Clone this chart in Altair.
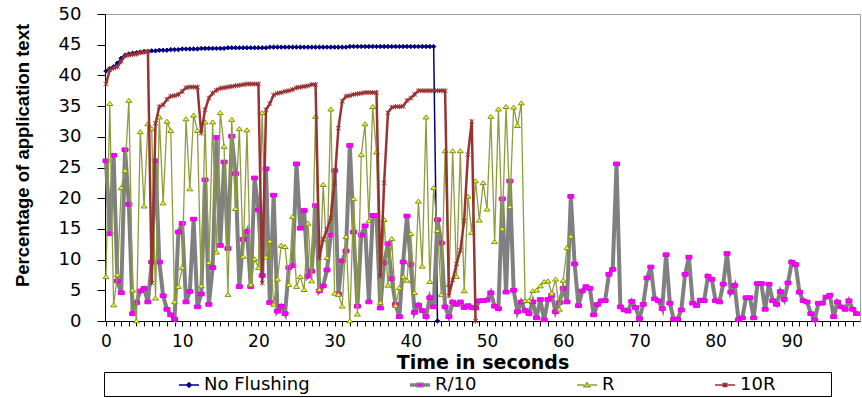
import altair as alt
import pandas as pd

BLANK = "\u2800"

series_names = ["No Flushing", "R/10", "R", "10R"]
step_seconds = 0.5

# No Flushing, samples every 0.5 s from t=0
no_flushing = [
    40.7, 41.1, 41.4, 42.0, 42.8, 43.3, 43.5, 43.6, 43.7, 43.8,
    43.9, 43.9, 44.0, 44.0, 44.1, 44.1, 44.1, 44.2, 44.2, 44.2,
    44.3, 44.3, 44.3, 44.3, 44.3, 44.4, 44.4, 44.4, 44.4, 44.4,
    44.4, 44.4, 44.5, 44.5, 44.5, 44.5, 44.5, 44.5, 44.5, 44.5,
    44.5, 44.5, 44.5, 44.6, 44.6, 44.6, 44.6, 44.6, 44.6, 44.6,
    44.6, 44.6, 44.6, 44.6, 44.6, 44.6, 44.6, 44.6, 44.6, 44.6,
    44.6, 44.6, 44.6, 44.6, 44.7, 44.7, 44.7, 44.7, 44.7, 44.7,
    44.7, 44.7, 44.7, 44.7, 44.7, 44.7, 44.7, 44.7, 44.7, 44.7,
    44.7, 44.7, 44.7, 44.7, 44.7, 44.7, 44.7, 0.0,
]

# R/10
r_div10 = [
    26.1, 14.2, 27.0, 6.5, 4.6, 27.9, 19.0, 1.2, 3.0, 4.9,
    5.3, 3.1, 9.6, 26.1, 9.6, 4.1, 1.9, 1.0, 0.3, 14.5,
    15.9, 3.1, 4.8, 16.6, 2.3, 4.4, 23.0, 2.7, 8.7, 29.9,
    12.3, 25.9, 11.8, 30.1, 24.0, 5.6, 13.3, 14.6, 5.6, 23.3,
    18.1, 7.4, 24.8, 3.0, 20.5, 1.6, 2.4, 1.2, 8.7, 9.0,
    25.6, 15.1, 18.0, 7.3, 8.1, 18.8, 4.9, 5.7, 8.3, 14.0,
    24.5, 4.4, 9.8, 11.4, 28.6, 14.5, 2.4, 14.0, 15.5, 3.1,
    17.2, 17.2, 2.1, 9.5, 12.6, 6.9, 2.7, 0.7, 9.6, 17.1,
    9.2, 1.4, 2.6, 1.7, 0.7, 3.8, 2.3, 16.5, 12.7, 2.3,
    0.7, 3.1, 2.7, 3.1, 2.2, 2.5, 2.2, 2.1, 3.3, 3.3,
    3.4, 4.6, 2.4, 2.0, 19.9, 4.7, 22.8, 5.0, 1.5, 3.1,
    1.7, 1.2, 3.1, 0.5, 3.5, 0.2, 3.5, 4.2, 1.5, 3.0,
    5.3, 3.1, 20.3, 9.3, 2.5, 4.9, 5.6, 5.3, 1.0, 2.7,
    3.3, 3.3, 7.6, 8.4, 25.6, 2.3, 1.8, 1.6, 3.2, 2.2,
    0.4, 2.7, 7.0, 8.8, 3.6, 3.3, 2.0, 10.8, 2.9, 0.3,
    0.3, 1.8, 7.6, 10.4, 2.9, 2.5, 3.4, 3.3, 7.3, 6.8,
    3.3, 3.1, 6.0, 11.0, 4.7, 5.8, 0.2, 0.5, 3.8, 3.8,
    0.5, 6.1, 6.1, 1.9, 6.0, 3.3, 2.7, 4.8, 3.5, 6.2,
    9.6, 9.2, 4.7, 3.3, 3.1, 1.2, 0.2, 2.9, 2.9, 3.9,
    4.2, 0.7, 3.1, 2.3, 1.9, 3.3, 1.9, 1.2,
]

# R
r_base = [
    7.2, 35.4, 2.6, 7.5, 21.7, 24.5, 35.9, 5.0, 0.0, 30.8,
    18.7, 32.1, 31.3, 3.7, 33.2, 19.2, 32.5, 31.0, 3.1, 5.6,
    8.7, 32.9, 21.5, 33.5, 31.0, 5.7, 32.4, 9.5, 32.4, 11.2,
    33.9, 28.4, 4.3, 32.8, 18.3, 31.3, 10.5, 31.1, 5.9, 10.1,
    8.7, 33.9, 10.4, 13.0, 2.7, 6.8, 12.3, 12.1, 5.9, 17.0,
    5.6, 7.2, 5.1, 15.9, 6.5, 33.3, 5.1, 22.2, 10.3, 34.5,
    4.5, 4.3, 2.4, 13.7, 0.0, 19.9, 1.1, 27.1, 32.1, 16.3,
    34.9, 27.5, 3.0, 16.5, 5.8, 13.4, 2.5, 5.4, 7.2, 6.6,
    14.2, 4.6, 19.5, 8.9, 33.2, 6.4, 21.7, 14.7, 4.3, 27.7,
    5.9, 27.7, 7.2, 27.7, 4.9, 20.3, 14.4, 22.8, 16.4, 22.5,
    18.2, 33.3, 12.9, 34.5, 15.0, 34.9, 18.6, 34.8, 31.8, 35.5,
    3.3, 3.3, 4.9, 5.0, 5.7, 6.4, 6.5, 4.5, 6.8, 1.9,
    6.6, 11.9, 13.8,
]

# 10R
r_times10 = [
    38.6, 40.9, 41.2, 41.4, 42.3, 43.2, 43.3, 43.4, 43.5, 43.7,
    43.8, 43.9, 6.2, 32.2, 34.9, 35.2, 36.1, 36.6, 36.7, 36.9,
    37.4, 38.0, 38.1, 38.1, 38.1, 30.6, 34.4, 36.3, 37.1, 37.6,
    37.9, 38.0, 38.1, 38.2, 38.3, 38.4, 38.5, 38.6, 38.6, 38.6,
    38.6, 6.2, 34.4, 35.4, 36.8, 37.1, 37.2, 37.4, 37.5, 37.7,
    38.0, 38.1, 38.2, 38.3, 38.5, 38.5, 10.3, 13.3, 14.9, 16.8,
    22.5, 31.4, 35.8, 36.6, 36.7, 36.9, 37.0, 37.1, 37.2, 37.2,
    37.2, 37.2, 7.3, 22.5, 33.9, 34.8, 34.9, 34.9, 35.0, 35.9,
    36.3, 36.9, 37.5, 37.5, 37.5, 37.5, 37.5, 37.5, 37.5, 37.5,
    4.1, 6.7, 9.3, 11.5, 16.3, 27.1, 32.5, 0.0,
]

x_ticks = list(range(0, 99))
y_ticks = list(range(0, 51, 5))

# styles
line_colors = ["#000080", "#808080", "#8C9E3C", "#993333"]
line_widths = [1.5, 4.0, 1.3, 2.5]
marker_fill = ["#000080", "#FF00FF", "#FFFF00", "transparent"]
marker_stroke = ["#000080", "#E000E0", "#7A8F2A", "#993333"]
marker_paths = [
    "M0,-0.22L0.22,0L0,0.22L-0.22,0Z",
    "M-0.3,-0.18H0.3V0.18H-0.3Z",
    "M0,-0.22L0.3,0.18H-0.3Z",
    "M-0.24,-0.2L0.24,0.2M-0.24,0.2L0.24,-0.2M0,-0.26V0.26",
]
legend_paths = [
    "M-1,0H1M0,-0.22L0.22,0L0,0.22L-0.22,0Z",
    "M-1,-0.1H-0.3M-1,0H-0.3M-1,0.1H-0.3M0.3,-0.1H1M0.3,0H1M0.3,0.1H1"
    "M-0.3,-0.18H0.3V0.18H-0.3Z",
    "M-1,0H-0.3M0.3,0H1M0,-0.22L0.3,0.18H-0.3Z",
    "M-1,0H1M-0.24,-0.2L0.24,0.2M-0.24,0.2L0.24,-0.2M0,-0.26V0.26",
]
legend_fill = ["#000080", "#FF00FF", "#FFFF00", "transparent"]

rows = []
for name, vals in zip(series_names, [no_flushing, r_div10, r_base, r_times10]):
    for i, v in enumerate(vals):
        rows.append({"t": i * step_seconds, "v": v, "series": name})
data = pd.DataFrame(rows)

x_enc = alt.X(
    "t:Q",
    scale=alt.Scale(domain=[-0.13, 98.95], nice=False, zero=False),
    axis=alt.Axis(
        values=x_ticks,
        labelExpr="datum.value % 10 === 0 ? datum.label : ''",
        title="Time in seconds",
        titleFont="DejaVu Sans", titleFontSize=19, titleFontWeight="bold",
        titleY=41.5, titleBaseline="middle", titleColor="black",
        labelFont="DejaVu Sans", labelFontSize=17, labelPadding=7, labelColor="black",
        tickSize=5, labelFlush=False, labelOverlap=False, grid=False,
        domainColor="black", tickColor="black",
    ),
)
y_enc = alt.Y(
    "v:Q",
    scale=alt.Scale(domain=[0, 50], nice=False, zero=True),
    axis=alt.Axis(
        values=y_ticks,
        title="Percentage of application text",
        titleFont="Liberation Sans", titleFontSize=18.5, titleFontWeight="bold",
        titleAngle=270, titleX=-83, titleY=141, titleAlign="center",
        titleBaseline="middle", titleColor="black",
        labelFont="DejaVu Sans", labelFontSize=18, labelPadding=16, labelColor="black",
        tickSize=8, labelFlush=False, grid=False,
        domainColor="black", tickColor="black",
    ),
)

label_expr = "datum.label == '10R' ? '10R" + BLANK * 4 + "' : datum.label"
legend = alt.Legend(title=BLANK, values=series_names,
                    strokeColor="black", labelExpr=label_expr)

layers = []
for i, name in enumerate(series_names):
    base = alt.Chart().transform_filter(alt.datum.series == name)
    line = base.mark_line(strokeWidth=line_widths[i], color=line_colors[i]).encode(
        x=x_enc, y=y_enc)
    pts = base.mark_point(size=400, strokeWidth=1, opacity=1, shape=marker_paths[i],
                          fill=marker_fill[i], stroke=marker_stroke[i], filled=True).encode(
        x=x_enc, y=y_enc)
    layers += [line, pts]

legend_layer = alt.Chart().transform_filter("false").mark_point(
    size=400, strokeWidth=1.5, opacity=1).encode(
    x=x_enc, y=y_enc,
    shape=alt.Shape("series:N", scale=alt.Scale(domain=series_names, range=legend_paths),
                    legend=legend),
    fill=alt.Fill("series:N", scale=alt.Scale(domain=series_names, range=legend_fill),
                  legend=legend),
    stroke=alt.Stroke("series:N", scale=alt.Scale(domain=series_names, range=line_colors),
                      legend=legend),
)
layers.append(legend_layer)

chart = (
    alt.layer(*layers, data=data)
    .properties(
        width=755, height=307,
        autosize=alt.AutoSizeParams(type="none"),
        padding={"left": 105, "top": 14, "right": 2, "bottom": 77},
        background="white",
    )
    .configure_view(stroke="#A0A0A0", strokeWidth=1)
    .configure_legend(
        orient="none", legendX=-1, legendY=358, direction="horizontal",
        columns=4, columnPadding=97, padding=2, rowPadding=0,
        labelFont="DejaVu Sans", labelFontSize=18, labelColor="black",
        symbolSize=400, titleOrient="left", titlePadding=57,
        titleFont="DejaVu Sans", titleFontSize=18,
        labelOffset=4, labelLimit=400,
    )
)

chart.save("out.html", embed_options={"renderer": "svg", "actions": False})
